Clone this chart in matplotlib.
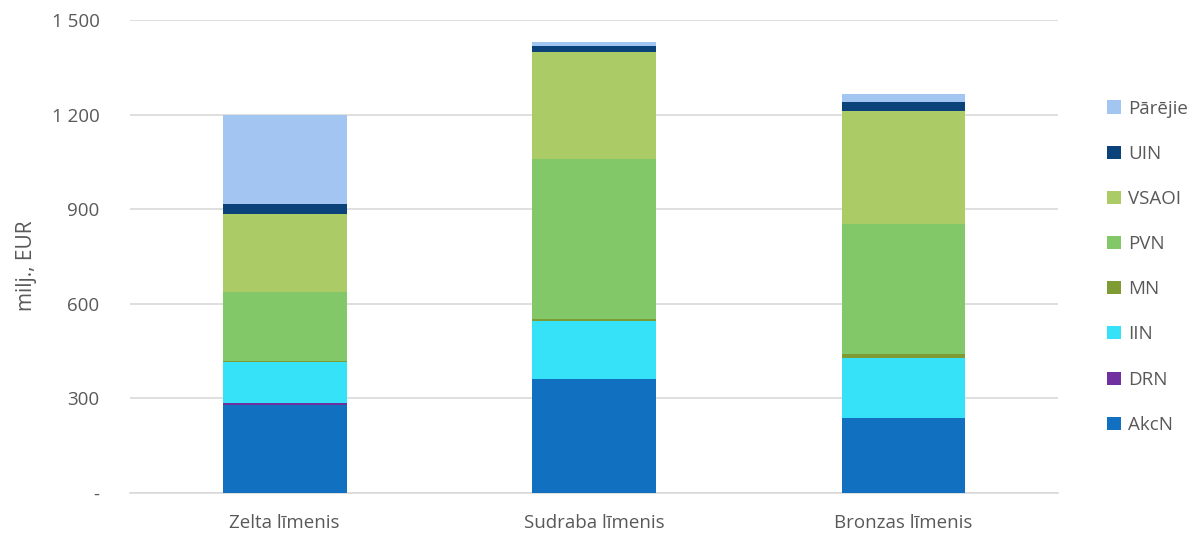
import matplotlib
matplotlib.use("Agg")
import matplotlib.pyplot as plt
import numpy as np
from matplotlib.patches import Patch

categories = ["Zelta līmenis", "Sudraba līmenis", "Bronzas līmenis"]
series_names = ["AkcN", "DRN", "IIN", "MN", "PVN", "VSAOI", "UIN", "Pārējie"]
AkcN = [279, 361, 238]
DRN = [7, 1, 1]
IIN = [130, 184, 190]
MN = [4, 6, 13]
PVN = [219, 506, 410]
VSAOI = [247, 340, 359]
UIN = [32, 19, 28]
Parejie = [282, 14, 28]
yticks = [0, 300, 600, 900, 1200, 1500]
ytick_labels = ["-", "300", "600", "900", "1 200", "1 500"]

colors = ["#1170C0", "#7030A0", "#35E2F8", "#7E9B34", "#82C768", "#ABCB66", "#0B4279", "#A2C5F2"]
data = [AkcN, DRN, IIN, MN, PVN, VSAOI, UIN, Parejie]

plt.rcParams['font.family'] = ['Open Sans', 'DejaVu Sans']
text_color = "#595959"

fig = plt.figure(figsize=(11.93, 5.35), dpi=100)
ax = fig.add_axes([0.109, 0.0785, 0.778, 0.884])

x = np.arange(len(categories))
bottom = np.zeros(len(categories))
for name, vals, c in zip(series_names, data, colors):
    vals = np.array(vals, dtype=float)
    ax.bar(x, vals, 0.40, bottom=bottom, color=c, label=name, zorder=3)
    bottom += vals

ax.set_xlim(-0.5, 2.5)
ax.set_ylim(0, 1500)
ax.set_yticks(yticks)
ax.set_yticklabels(ytick_labels)
ax.set_xticks(x)
ax.set_xticklabels(categories)
ax.tick_params(axis='both', length=0, labelsize=13.5, colors=text_color)
ax.tick_params(axis='y', pad=22)
ax.tick_params(axis='x', pad=15)
ax.grid(axis='y', color="#D9D9D9", linewidth=1.2, zorder=0)
for s in ["top", "right", "left"]:
    ax.spines[s].set_visible(False)
ax.spines["bottom"].set_color("#D9D9D9")
ax.spines["bottom"].set_linewidth(1.2)
ax.set_ylabel("milj., EUR", fontsize=15, color=text_color)
ax.yaxis.set_label_coords(-0.10, 0.48)

handles = [Patch(facecolor=c, label=n) for n, c in zip(series_names, colors)][::-1]
leg = fig.legend(handles=handles, loc="upper left", bbox_to_anchor=(0.922, 0.828),
                 frameon=False, fontsize=13.5, handlelength=0.7, handleheight=0.7,
                 labelspacing=1.45, handletextpad=0.4, borderaxespad=0)
for t in leg.get_texts():
    t.set_color(text_color)

fig.savefig("out.png", dpi=100)
